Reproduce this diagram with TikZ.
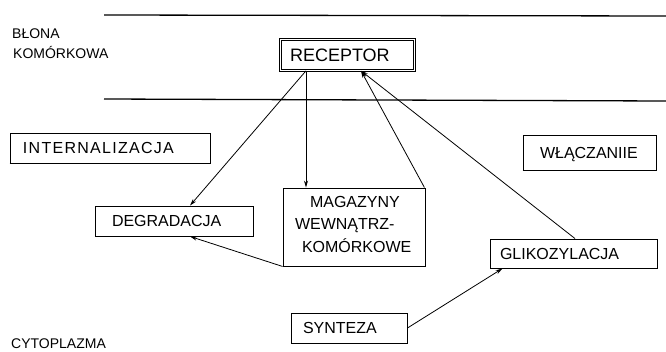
\documentclass[tikz,border=0pt]{standalone}
\usepackage{fontspec}
\setmainfont{Liberation Sans}
\newfontfamily\widesans[LetterSpace=8]{Liberation Sans}
\usetikzlibrary{arrows.meta}
\begin{document}
\begin{tikzpicture}[x=1pt,y=-1pt,
  boxbase/.style={draw, line width=0.9pt, rectangle, inner ysep=0pt, align=left,
    font=\fontsize{16}{22.5}\selectfont},
  box/.style={boxbase, text height=11.5pt, text depth=0pt},
  conn/.style={line width=0.8pt, -{Stealth[length=7pt,width=4pt]}},
  membrane/.style={line width=1.3pt},
  sidelabel/.style={font=\fontsize{14}{20}\selectfont, anchor=base west, inner sep=0pt}]
\useasboundingbox (0,0) rectangle (666,351);

% membrane boundaries
\coordinate (m1a) at (104,15);  \coordinate (m1b) at (666,16);
\coordinate (m2a) at (104,99);  \coordinate (m2b) at (666,101);
\draw[membrane] (m1a) -- (m1b);
\draw[membrane] (m2a) -- (m2b);

% region labels
\node[sidelabel] (blona) at (12,38) {BŁONA};
\node[sidelabel] (komorkowa) at (13,58) {KOMÓRKOWA};
\node[sidelabel] (cyto) at (11,348) {CYTOPLAZMA};

% receptor (double frame)
\node[draw, double, double distance=1.6pt, line width=0.8pt, rectangle,
      inner xsep=9.4pt, inner ysep=0pt, text width=115pt, align=left,
      minimum height=30.8pt, font=\fontsize{18}{22}\selectfont,
      text height=12.9pt, text depth=0pt] (rec) at (347.5,55) {RECEPTOR};

% process boxes
\node[box, inner xsep=13pt, text width=174pt, minimum height=30pt] (intern) at (110,148) {\widesans INTERNALIZACJA};
\node[box, inner xsep=17pt, text width=99pt, minimum height=35pt] (wlacz) at (589.5,152.5) {WŁĄCZANIIE};
\node[box, inner xsep=17pt, text width=124pt, minimum height=30pt] (degr) at (174,221) {DEGRADACJA};
\node[boxbase, inner xsep=12pt, text width=118pt, minimum height=78pt] (mag) at (354,227)
  {\hspace*{15pt}MAGAZYNY\\WEWNĄTRZ-\\\hspace*{7pt}KOMÓRKOWE\rule[-6pt]{0pt}{6pt}};
\node[box, inner xsep=10pt, text width=147pt, minimum height=29pt] (glik) at (573.5,253.5) {GLIKOZYLACJA};
\node[box, inner xsep=12pt, text width=92pt, minimum height=30pt] (synt) at (349,328) {SYNTEZA};

% heavier lower edges
\draw[line width=1.8pt] (intern.south west) -- (intern.south east);
\draw[line width=1.8pt] (wlacz.south west) -- (wlacz.south east);

% pathways
\draw[conn] ([xshift=-41.5pt]rec.south) -- ([xshift=16pt]degr.north);
\draw[conn] ([xshift=-41.5pt]rec.south) -- ([xshift=-48pt]mag.north);
\draw[conn] ([xshift=-1pt]mag.north east) -- ([xshift=13.5pt]rec.south);
\draw[conn] ([xshift=1.5pt]glik.north) -- ([xshift=13.5pt]rec.south);
\draw[conn] (mag.south west) -- ([xshift=16pt]degr.south);
\draw[conn] (synt.east) -- ([xshift=13pt]glik.south west);
\end{tikzpicture}
\end{document}
